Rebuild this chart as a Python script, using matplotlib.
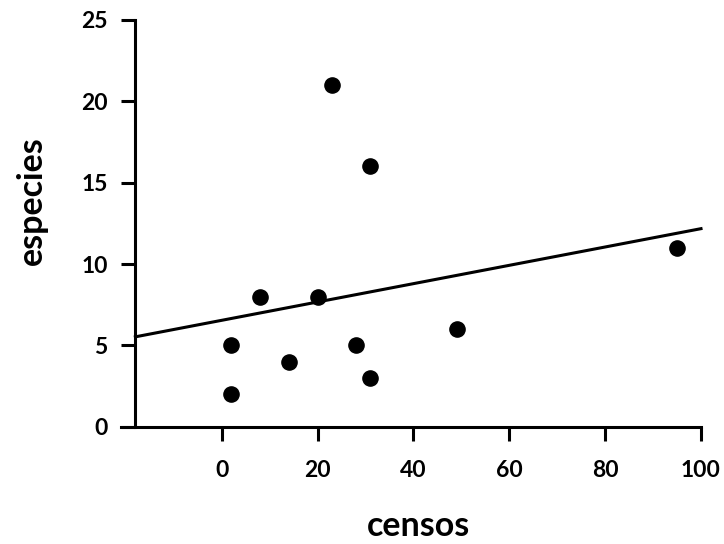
import numpy as np
import matplotlib.pyplot as plt

# datos
censos = [2, 2, 8, 14, 20, 23, 28, 31, 31, 49, 95]
especies = [2, 5, 8, 4, 8, 21, 5, 16, 3, 6, 11]
xticks = [0, 20, 40, 60, 80, 100]
yticks = [0, 5, 10, 15, 20, 25]

plt.rcParams['font.family'] = ['Lato', 'DejaVu Sans']
plt.rcParams['font.weight'] = 'bold'

fig = plt.figure(figsize=(7.24, 5.44), dpi=100)
ax = fig.add_axes([121 / 724, 1 - 426.7 / 544, (701 - 121) / 724, (426.7 - 20) / 544])

ax.scatter(censos, especies, s=120, color='black', zorder=3)

# recta de regresion
m, b = np.polyfit(censos, especies, 1)
xl = np.array([-18, 100])
ax.plot(xl, m * xl + b, color='black', lw=2.2, clip_on=False)

ax.set_xlim(-21, 100)
ax.set_ylim(0, 25)
ax.set_xticks(xticks)
ax.set_yticks(yticks)
ax.spines['top'].set_visible(False)
ax.spines['right'].set_visible(False)
ax.spines['left'].set_position(('data', -18))
for s in ['left', 'bottom']:
    ax.spines[s].set_linewidth(2.2)
ax.tick_params(direction='out', length=10, width=2.2, labelsize=16.5, pad=10)
ax.tick_params(axis='x', pad=14)

fig.text(419 / 724, 1 - 526 / 544, 'censos', ha='center', va='center',
         fontsize=24.5, fontweight='bold')
fig.text(32 / 724, 1 - 201 / 544, 'especies', ha='center', va='center',
         rotation=90, fontsize=24.5, fontweight='bold')

fig.savefig('out.png', dpi=100)
